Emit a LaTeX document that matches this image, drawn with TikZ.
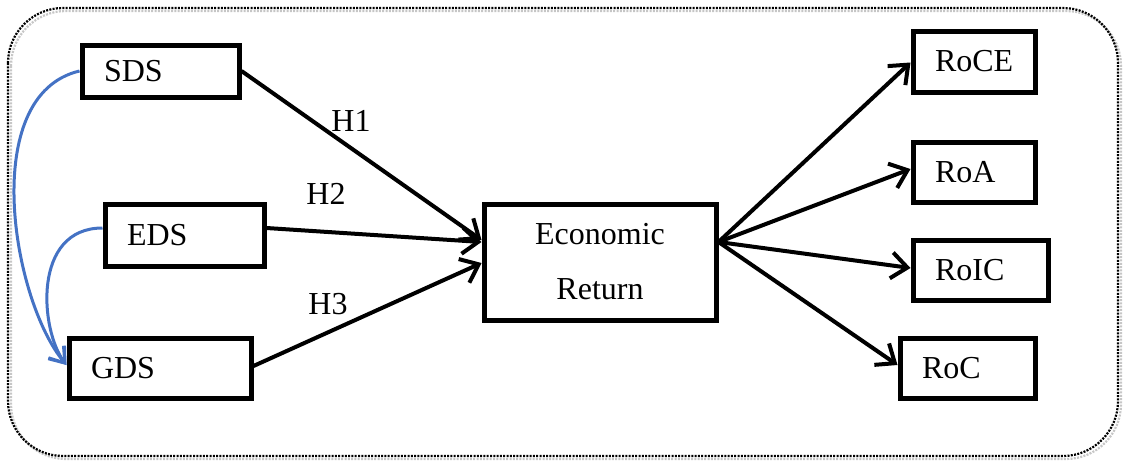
\documentclass[tikz,border=0pt]{standalone}
\usepackage{fontspec}
\setmainfont{Liberation Serif}
\usetikzlibrary{arrows.meta,calc}
\definecolor{corrblue}{RGB}{68,114,196}
\begin{document}
\begin{tikzpicture}[x=1pt,y=-1pt,
  txt/.style={font=\fontsize{32}{55}\selectfont},
  box/.style={txt, draw, line width=5pt, inner xsep=22pt, inner ysep=0pt, align=left},
  link/.style={line width=4pt, -{Straight Barb[length=16pt,width=26pt,line width=4pt]}},
  corr/.style={draw=corrblue, line width=3pt, -{Straight Barb[length=14pt,width=20pt,line width=3pt]}},
  hlabel/.style={txt, inner sep=0pt},
  frame/.style={line width=2.2pt, dash pattern=on 2pt off 1.3pt, rounded corners=55pt}]
\useasboundingbox (0,0) rectangle (1123,463);

% dotted frame with its soft shadow
\draw[frame, gray!45] (11,11) rectangle (1121,459);
\draw[frame, black] (8,8) rectangle (1118,456);

% dimensions of sustainability
\node[box, text width=113pt, minimum height=52pt] (sds) at (160.5,71) {SDS};
\node[box, text width=115pt, minimum height=62pt] (eds) at (184.5,235) {EDS};
\node[box, text width=138pt, minimum height=60pt] (gds) at (160,368) {GDS};

% central construct
\node[box, text width=188pt, minimum height=116pt, align=center] (econ) at (600,262) {Economic\\Return};

% indicators
\node[box, text width=78pt, minimum height=61pt] (roce) at (974,61.5) {RoCE};
\node[box, text width=78pt, minimum height=60pt] (roa) at (974,172) {RoA};
\node[box, text width=91pt, minimum height=60pt] (roic) at (980.5,270) {RoIC};
\node[box, text width=91pt, minimum height=60pt] (roc) at (967.5,368) {RoC};

% hypotheses
\draw[link] (sds.east) -- ($(econ.west)+(0,-22)$);
\draw[link] ($(eds.east)+(0,-7)$) -- ($(econ.west)+(0,-20)$);
\draw[link] ($(gds.east)+(0,-2)$) -- ($(econ.west)+(0,1)$);
\node[hlabel] (h1) at (351,121) {H1};
\node[hlabel] (h2) at (326,194) {H2};
\node[hlabel] (h3) at (328,304) {H3};

% measurement arrows
\coordinate (hub) at ($(econ.east)+(0,-20)$);
\draw[link] (hub) -- ($(roce.west)+(0,1)$);
\draw[link] (hub) -- ($(roa.west)+(0,-3)$);
\draw[link] (hub) -- ($(roic.west)+(0,-2)$);
\draw[link] (hub) -- ($(roc.west)+(0,-3)$);

% correlations between dimensions
\draw[corr] (sds.west) .. controls (-22,95) and (12,300) .. ($(gds.west)+(0,-3)$);
\draw[corr] ($(eds.west)+(0,-7)$) .. controls (32,228) and (40,330) .. ($(gds.west)+(0,-3)$);
\end{tikzpicture}
\end{document}
